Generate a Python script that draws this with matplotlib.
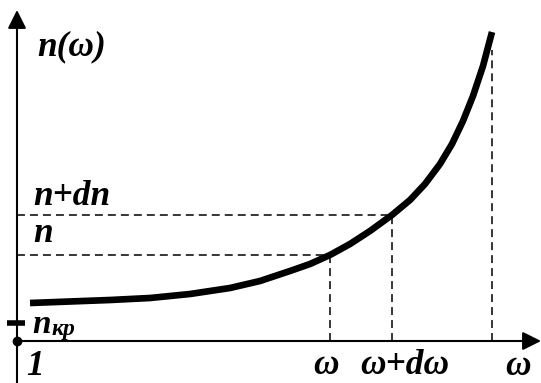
import matplotlib.pyplot as plt

# refractive index curve n(omega), in drawing units (origin at the axes crossing)
omega = [13, 53, 93, 133, 173, 213, 243, 273, 293, 313, 333, 353, 375,
         393, 408, 423, 435, 446, 456, 466, 475]
n_val = [38, 39.5, 41, 43, 47, 53, 60, 70, 77, 86, 97, 110, 126,
         141, 157, 177, 197, 220, 245, 275, 309]

# marked levels
omega_1 = 313
omega_2 = 375
omega_max = 475
n_1 = 86
n_2 = 126
n_max_dash = 291
n_kr = 18

font = dict(family='Liberation Serif', weight='bold', style='italic', color='black')
dash = dict(color='black', lw=1.1, dashes=(5.2, 3.3))


def main():
    fig = plt.figure(figsize=(5.41, 3.83), dpi=100)
    ax = fig.add_axes([0, 0, 1, 1])
    ax.set_xlim(-17, 524)
    ax.set_ylim(-42, 341)
    ax.axis('off')

    # axes with arrows
    arrow = dict(arrowstyle='-|>,head_length=0.8,head_width=0.4', lw=1.5,
                 color='black', mutation_scale=14, shrinkA=0, shrinkB=0)
    ax.annotate('', xy=(524, 0), xytext=(0, 0), arrowprops=arrow)
    ax.annotate('', xy=(0, 331), xytext=(0, -42), arrowprops=arrow)
    ax.plot([0], [0], 'o', color='black', ms=6)
    ax.plot([-10, 8], [n_kr, n_kr], color='black', lw=4, solid_capstyle='butt')

    # helper lines
    ax.plot([0, omega_2], [n_2, n_2], **dash)
    ax.plot([0, omega_1], [n_1, n_1], **dash)
    ax.plot([omega_1, omega_1], [0, n_1], **dash)
    ax.plot([omega_2, omega_2], [0, n_2], **dash)
    ax.plot([omega_max, omega_max], [0, n_max_dash], **dash)

    ax.plot(omega, n_val, color='black', lw=4.8, solid_capstyle='butt',
            solid_joinstyle='round')

    fs = 25.5
    ax.text(20, 286, 'n(ω)', fontsize=fs, **font)
    ax.text(16, 136, 'n+dn', fontsize=fs, **font)
    ax.text(16, 99, 'n', fontsize=fs, **font)
    ax.text(15, 8, 'n', fontsize=24, **font)
    ax.text(35, 6, 'кр', fontsize=17, **font)
    ax.text(9, -34, '1', fontsize=fs, **font)
    ax.text(296, -33, 'ω', fontsize=fs, **font)
    ax.text(343, -33, 'ω+dω', fontsize=fs, **font)
    ax.text(488, -34, 'ω', fontsize=fs, **font)

    fig.savefig('out.png', dpi=100)


if __name__ == '__main__':
    main()
